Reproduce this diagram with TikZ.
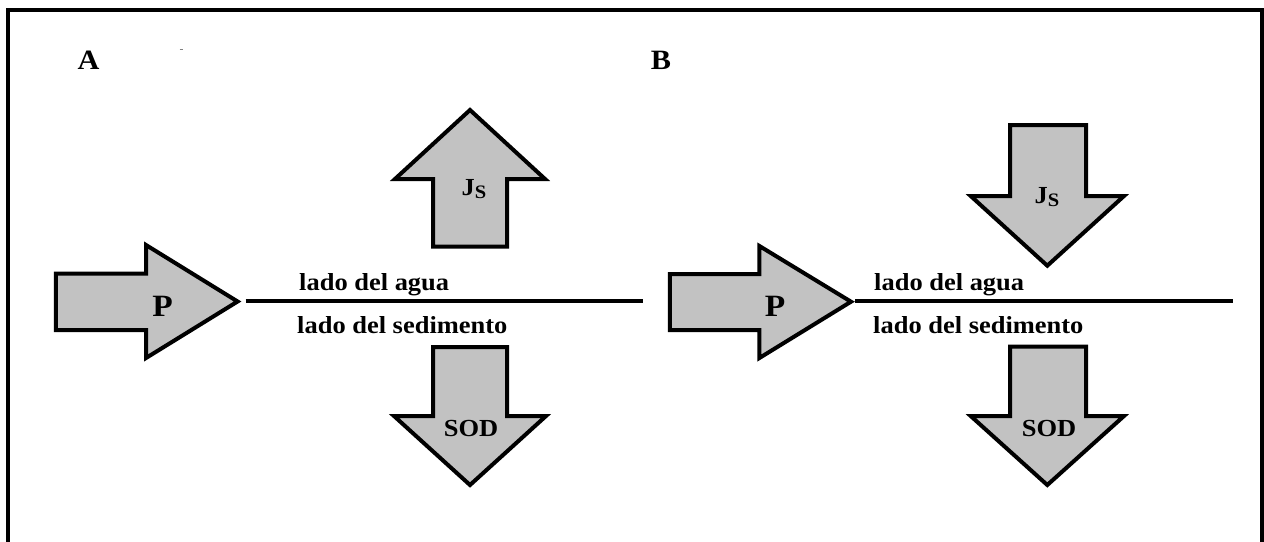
\documentclass[tikz,border=0pt]{standalone}
\usepackage{fontspec}
\setmainfont{Liberation Serif}[FakeStretch=1.08]
\definecolor{fluxgray}{RGB}{194,194,194}
\tikzset{
  blockarrow/.style={draw=black, fill=fluxgray, line width=4pt, line join=miter, miter limit=20},
  interface/.style={draw=black, line width=3.2pt},
  frameline/.style={draw=black, line width=3.2pt},
  side/.style={anchor=base west, inner sep=0pt, font=\fontsize{24.5}{26}\selectfont\bfseries},
  panel/.style={anchor=center, inner sep=0pt, font=\fontsize{28}{30}\selectfont\bfseries},
  flux/.style={anchor=center, inner sep=0pt, font=\fontsize{24.5}{26}\selectfont\bfseries},
  plabel/.style={anchor=center, inner sep=0pt, font=\fontsize{31}{33}\selectfont\bfseries},
}
\newcommand{\jflux}{J\raisebox{-3pt}{\fontsize{19}{20}\selectfont S}}
\begin{document}
\begin{tikzpicture}[x=1pt, y=-1pt]
\useasboundingbox (0,0) rectangle (1264,541);

% outer frame, running off the lower edge
\draw[frameline] (8,560) -- (8,10) -- (1262,10) -- (1262,560);
\draw[gray, line width=1pt] (179.5,49) -- (183,49);

% panel letters
\node[panel] (labA) at (88.5,60) {A};
\node[panel] (labB) at (661,60) {B};

% ---------- panel A ----------
\draw[blockarrow] (55.8,273.5) -- (146,273.5) -- (146,245) -- (237.6,301.5)
  -- (146,358) -- (146,330) -- (55.8,330) -- cycle;
\node[plabel] (PA) at (162.5,306) {P};

\draw[blockarrow] (470,110) -- (545,179) -- (507,179) -- (507,246.7)
  -- (433,246.7) -- (433,179) -- (395,179) -- cycle;
\node[flux] (JA) at (474,189) {\jflux};

\draw[blockarrow] (433,347) -- (507,347) -- (507,416) -- (546,416)
  -- (470,485) -- (394,416) -- (433,416) -- cycle;
\node[flux] (SODA) at (471,429) {SOD};

\coordinate (wA1) at (245.5,301);
\coordinate (wA2) at (642.8,301);
\draw[interface] (wA1) -- (wA2);
\node[side] (aguaA) at (299,290) {lado del agua};
\node[side] (sedA) at (297,333) {lado del sedimento};

% ---------- panel B ----------
\draw[blockarrow] (669.8,274) -- (759.4,274) -- (759.4,246) -- (851,301.7)
  -- (759.4,358) -- (759.4,330) -- (669.8,330) -- cycle;
\node[plabel] (PB) at (775,306) {P};

\draw[blockarrow] (1010,125) -- (1086,125) -- (1086,196) -- (1124,196)
  -- (1047.3,265.7) -- (970.7,196) -- (1010,196) -- cycle;
\node[flux] (JB) at (1047,197) {\jflux};

\draw[blockarrow] (1010,346.7) -- (1086,346.7) -- (1086,416) -- (1124,416)
  -- (1047.3,485) -- (970.7,416) -- (1010,416) -- cycle;
\node[flux] (SODB) at (1049,429) {SOD};

\coordinate (wB1) at (855,301);
\coordinate (wB2) at (1233,301);
\draw[interface] (wB1) -- (wB2);
\node[side] (aguaB) at (874,290) {lado del agua};
\node[side] (sedB) at (873,333) {lado del sedimento};
\end{tikzpicture}
\end{document}
